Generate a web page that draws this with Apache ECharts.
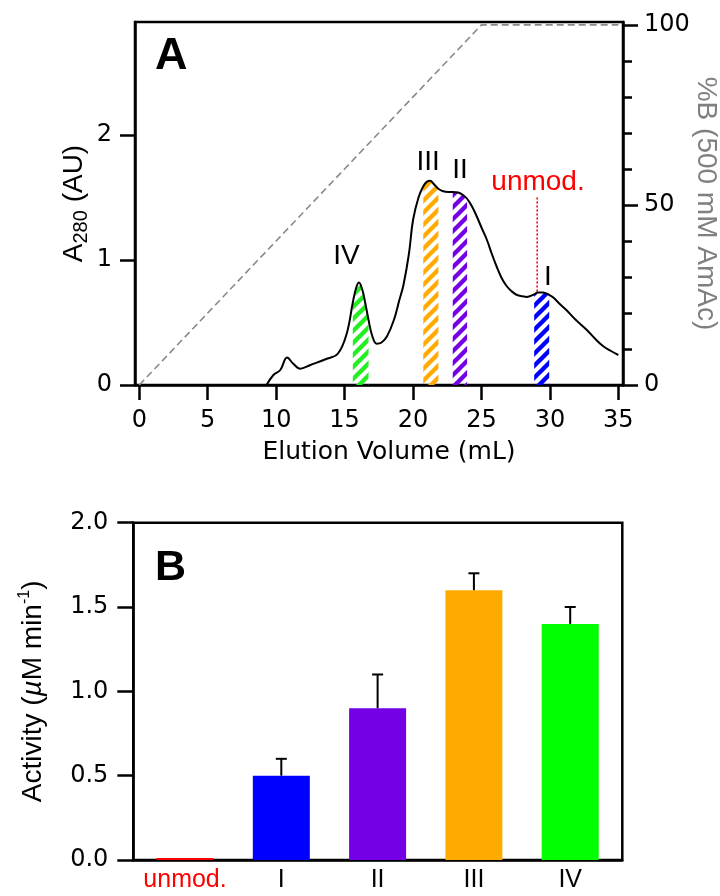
<!DOCTYPE html>
<html><head><meta charset="utf-8">
<script src="https://cdn.jsdelivr.net/npm/echarts@6/dist/echarts.min.js"></script>
<style>html,body{margin:0;padding:0;background:#fff}#c{width:720px;height:896px}</style>
</head><body><div id="c"></div>
<script>
// ---------- Panel A data ----------
const curveVolume = [9.3, 9.8, 10.3, 10.8, 11.25, 11.75, 12.5, 13.7, 14.5, 15.15, 15.6, 15.85, 16.05, 16.3, 16.5, 16.75, 17.0, 17.35, 17.7, 18.1, 18.6, 19.0, 19.3, 19.7, 20.0, 20.4, 20.75, 21.0, 21.25, 21.5, 21.85, 22.2, 22.6, 22.9, 23.3, 23.65, 23.95, 24.3, 24.65, 25.0, 25.4, 25.75, 26.1, 26.5, 26.85, 27.2, 27.6, 28.0, 28.3, 28.85, 29.1, 29.5, 29.95, 30.25, 30.7, 31.2, 31.9, 32.7, 33.3, 33.9, 34.5, 35.0];
const curveA280 = [0.0, 0.08, 0.12, 0.22, 0.17, 0.13, 0.16, 0.21, 0.25, 0.41, 0.66, 0.78, 0.82, 0.76, 0.66, 0.52, 0.40, 0.33, 0.34, 0.39, 0.52, 0.68, 0.80, 1.05, 1.32, 1.50, 1.59, 1.625, 1.635, 1.61, 1.57, 1.55, 1.545, 1.545, 1.54, 1.52, 1.49, 1.43, 1.35, 1.26, 1.16, 1.05, 0.95, 0.85, 0.79, 0.75, 0.72, 0.71, 0.705, 0.725, 0.74, 0.74, 0.72, 0.70, 0.65, 0.60, 0.52, 0.44, 0.37, 0.31, 0.27, 0.24];
const gradientVolume = [0, 25, 35];
const gradientPercentB = [0, 100, 100];
const fractionNames = ['I', 'II', 'III', 'IV'];
const fractionStart = [28.85, 22.9, 20.75, 15.6];
const fractionEnd = [29.95, 23.95, 21.85, 16.75];
const peakLabelNames = ['IV', 'III', 'II', 'I', 'unmod.'];
const peakLabelVolume = [15.13, 21.11, 23.43, 29.86, 29.13];
const peakLabelA280 = [1.03, 1.78, 1.72, 0.86, 1.62];
const unmodMarkerVolume = 29.07;
const unmodMarkerTop = 1.50;
const unmodMarkerBottom = 0.74;
const xTicksA = [0, 5, 10, 15, 20, 25, 30, 35];
const yTicksA = [0, 1, 2];
const yTicksRightA = [0, 50, 100];
const yMinorTicksRightA = [10, 20, 30, 40, 60, 70, 80, 90];

// ---------- Panel B data ----------
const activityCategories = ['unmod.', 'I', 'II', 'III', 'IV'];
const activityValues = [0.012, 0.5, 0.9, 1.6, 1.4];
const activityErrors = [0, 0.1, 0.2, 0.1, 0.1];

// ---------- styles ----------
const FONT = "'Liberation Sans', Arial, Helvetica, sans-serif";
const TICKFONT = "'DejaVu Sans', 'Liberation Sans', sans-serif";
const fractionColors = { 'I': '#0000ff', 'II': '#7400e6', 'III': '#ffaa00', 'IV': '#22ee22' };
const barColors = ['#ff0000', '#0000ff', '#7400e6', '#ffaa00', '#00ff00'];
const labelColors = { 'unmod.': '#ff0000' };

function hatch(color) {
  const c = document.createElement('canvas');
  const s = 12;
  c.width = s; c.height = s;
  const g = c.getContext('2d');
  g.strokeStyle = color;
  g.lineWidth = 4.4;
  for (let k = -1; k <= 1; k++) {
    g.beginPath();
    g.moveTo(k * s - 2, s + 2);
    g.lineTo(k * s + s + 2, -2);
    g.stroke();
  }
  return c;
}

const curveData = curveVolume.map((v, i) => [v, curveA280[i]]);
const hatchSeries = fractionNames.map((n, i) => ({
  type: 'line', xAxisIndex: 0, yAxisIndex: 0, smooth: 0.4, symbol: 'none', silent: true,
  data: curveData.filter(p => p[0] >= fractionStart[i] - 1e-9 && p[0] <= fractionEnd[i] + 1e-9),
  lineStyle: { width: 0 },
  areaStyle: { color: { image: hatch(fractionColors[n]), repeat: 'repeat' }, opacity: 1 },
  z: 2
}));

const axisLineStyle = { color: '#000', width: 2.5 };
const chart = echarts.init(document.getElementById('c'), null, { renderer: 'canvas' });
chart.setOption({
  animation: false,
  backgroundColor: '#fff',
  textStyle: { fontFamily: FONT },
  grid: [
    { left: 135, top: 22, width: 488, height: 363, show: true, borderColor: '#000', borderWidth: 2.5, containLabel: false, outerBoundsMode: 'none' },
    { left: 133.3, top: 522.7, width: 489, height: 337.3, show: true, borderColor: '#000', borderWidth: 2.5, containLabel: false, outerBoundsMode: 'none' }
  ],
  xAxis: [
    {
      type: 'value', gridIndex: 0, min: -0.314, max: 35.34,
      axisLine: { show: true, onZero: false, lineStyle: axisLineStyle },
      axisTick: { show: true, customValues: xTicksA, length: 15, inside: false, lineStyle: axisLineStyle },
      axisLabel: { customValues: xTicksA, fontSize: 24, color: '#000', margin: 24, fontFamily: TICKFONT },
      splitLine: { show: false },
      name: 'Elution Volume (mL)', nameLocation: 'middle', nameGap: 55, nameMoveOverlap: false,
      nameTextStyle: { fontSize: 25, color: '#000', fontFamily: TICKFONT, padding: [0, 0, 0, 20] }
    },
    {
      type: 'value', gridIndex: 1, min: -0.537, max: 4.541,
      axisLine: { show: true, onZero: false, lineStyle: axisLineStyle },
      axisTick: { show: false },
      axisLabel: {
        customValues: [0, 1, 2, 3, 4], fontSize: 25, color: '#000', margin: 8, fontFamily: FONT,
        formatter: v => {
          const n = activityCategories[Math.round(v)];
          return labelColors[n] ? '{r|' + n + '}' : n;
        },
        rich: { r: { color: '#ff0000', fontSize: 25, fontFamily: FONT } }
      },
      splitLine: { show: false }
    }
  ],
  yAxis: [
    {
      type: 'value', gridIndex: 0, min: 0, max: 2.904, position: 'left',
      axisLine: { show: true, onZero: false, lineStyle: axisLineStyle },
      axisTick: { show: true, customValues: yTicksA, length: 15, lineStyle: axisLineStyle },
      axisLabel: { customValues: yTicksA, fontSize: 24, color: '#000', margin: 23, fontFamily: TICKFONT },
      splitLine: { show: false },
      name: '{a|A}{s|280}{a| (AU)}', nameLocation: 'middle', nameRotate: 90, nameGap: 44, nameMoveOverlap: false,
      nameTextStyle: {
        rich: {
          a: { fontSize: 28, lineHeight: 34, color: '#000', fontFamily: FONT },
          s: { fontSize: 20, lineHeight: 20, verticalAlign: 'bottom', color: '#000', fontFamily: FONT }
        }
      }
    },
    {
      type: 'value', gridIndex: 0, min: 0, max: 100.8, position: 'right',
      axisLine: { show: true, onZero: false, lineStyle: axisLineStyle },
      axisTick: { show: true, customValues: yTicksRightA, length: 15, lineStyle: axisLineStyle },
      axisLabel: { customValues: yTicksRightA, fontSize: 24, color: '#000', margin: 21, fontFamily: TICKFONT },
      splitLine: { show: false },
      name: '%B (500 mM AmAc)', nameLocation: 'middle', nameRotate: -90, nameGap: 68, nameMoveOverlap: false,
      nameTextStyle: { fontSize: 28, lineHeight: 30, color: '#808080', fontFamily: FONT }
    },
    {
      type: 'value', gridIndex: 0, min: 0, max: 100.8, position: 'right',
      axisLine: { show: false, onZero: false },
      axisTick: { show: true, customValues: yMinorTicksRightA, length: 9, lineStyle: axisLineStyle },
      axisLabel: { show: false },
      splitLine: { show: false }
    },
    {
      type: 'value', gridIndex: 1, min: 0, max: 2, interval: 0.5,
      axisLine: { show: true, onZero: false, lineStyle: axisLineStyle },
      axisTick: { show: true, length: 16, lineStyle: axisLineStyle },
      axisLabel: { fontSize: 24, color: '#000', margin: 25, fontFamily: TICKFONT, formatter: v => v.toFixed(1) },
      splitLine: { show: false },
      name: '{a|Activity (}{i|\u00b5}{a|M min}{p|-1}{a|)}', nameLocation: 'middle', nameRotate: 90, nameGap: 83, nameMoveOverlap: false,
      nameTextStyle: {
        rich: {
          a: { fontSize: 28, lineHeight: 34, color: '#000', fontFamily: FONT },
          i: { fontSize: 28, lineHeight: 34, fontStyle: 'italic', color: '#000', fontFamily: FONT },
          p: { fontSize: 16, lineHeight: 16, verticalAlign: 'top', color: '#000', fontFamily: FONT }
        }
      }
    }
  ],
  graphic: [
    { type: 'text', left: 155, top: 34, style: { text: 'A', font: "bold 45px " + FONT, fill: '#000' } },
    { type: 'text', left: 155, top: 547, style: { text: 'B', font: "bold 43px " + FONT, fill: '#000' } }
  ],
  series: [
    ...hatchSeries,
    {
      type: 'line', xAxisIndex: 0, yAxisIndex: 1, symbol: 'none', silent: true,
      data: gradientVolume.map((v, i) => [v, gradientPercentB[i]]),
      lineStyle: { color: '#8a8a8a', width: 1.6, type: [7, 4] }, z: 1
    },
    {
      type: 'line', xAxisIndex: 0, yAxisIndex: 0, symbol: 'none', silent: true,
      data: [[unmodMarkerVolume, unmodMarkerTop], [unmodMarkerVolume, unmodMarkerBottom]],
      lineStyle: { color: '#ff0000', width: 1.6, type: [2, 2] }, z: 3
    },
    {
      type: 'line', xAxisIndex: 0, yAxisIndex: 0, symbol: 'none', smooth: 0.4, silent: true,
      data: curveData, lineStyle: { color: '#000', width: 2 }, z: 4
    },
    {
      type: 'custom', xAxisIndex: 0, yAxisIndex: 0, silent: true, z: 5,
      data: peakLabelNames.map((n, i) => [peakLabelVolume[i], peakLabelA280[i], i]),
      renderItem: (params, api) => {
        const p = api.coord([api.value(0), api.value(1)]);
        const n = peakLabelNames[api.value(2)];
        return {
          type: 'text', x: p[0], y: p[1],
          style: { text: n, fill: labelColors[n] || '#000', font: '28px ' + FONT, align: 'center', verticalAlign: 'middle' }
        };
      }
    },
    {
      type: 'bar', xAxisIndex: 1, yAxisIndex: 3, barWidth: 57, silent: true,
      data: activityValues.map((v, i) => ({ value: [i, v], itemStyle: { color: barColors[i] } })),
      z: 2
    },
    {
      type: 'custom', xAxisIndex: 1, yAxisIndex: 3, silent: true, z: 3,
      data: activityValues.map((v, i) => [i, v, activityErrors[i]]),
      renderItem: (params, api) => {
        const e = api.value(2);
        if (!e) return null;
        const p0 = api.coord([api.value(0), api.value(1)]);
        const p1 = api.coord([api.value(0), api.value(1) + e]);
        return {
          type: 'group', children: [
            { type: 'line', shape: { x1: p0[0], y1: p0[1], x2: p1[0], y2: p1[1] }, style: { stroke: '#000', lineWidth: 2 } },
            { type: 'line', shape: { x1: p1[0] - 5.5, y1: p1[1], x2: p1[0] + 5.5, y2: p1[1] }, style: { stroke: '#000', lineWidth: 2 } }
          ]
        };
      }
    }
  ]
});
</script>
</body></html>
